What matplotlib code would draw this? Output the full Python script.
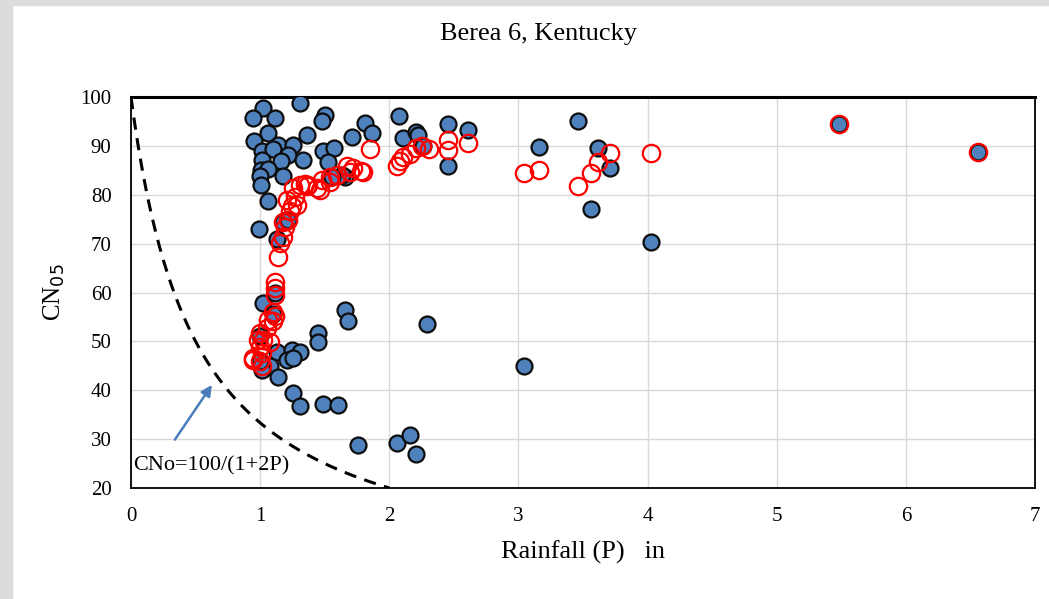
import numpy as np
import matplotlib
matplotlib.use("Agg")
import matplotlib.pyplot as plt
from matplotlib.patches import Rectangle

# Observed CN (blue filled)
blue_x = [1.308, 1.024, 0.947, 1.115, 1.50, 1.476, 1.063, 1.36, 1.81, 1.863, 1.708, 2.077,
          2.107, 2.21, 2.22, 0.954, 1.011, 1.14, 1.256, 1.10, 1.217, 1.158, 1.334, 1.488,
          1.571, 1.011, 1.004, 1.063, 1.179, 1.0, 1.004, 1.527, 1.656, 1.063, 0.993, 1.128,
          2.456, 2.61, 2.26, 2.456, 3.16, 3.46, 3.62, 3.71, 3.56, 4.03, 3.04, 5.48, 6.556,
          1.024, 1.115, 1.656, 1.68, 2.289, 1.45, 1.45, 1.128, 1.244, 1.308, 1.205, 1.256,
          1.076, 1.011, 1.14, 1.256, 1.308, 1.484, 1.605, 1.76, 2.057, 2.16, 2.21,
          1.0, 1.10, 1.0, 1.18, 1.217, 1.63, 1.56]
blue_y = [98.7, 97.7, 95.8, 95.8, 96.3, 95.1, 92.6, 92.2, 94.6, 92.7, 91.9, 96.1,
          91.7, 92.9, 92.2, 90.9, 89.0, 90.2, 90.2, 89.3, 88.1, 87.0, 87.1, 89.0,
          89.5, 87.1, 85.1, 85.2, 83.8, 83.8, 82.0, 86.8, 83.6, 78.7, 72.9, 70.9,
          94.5, 93.3, 89.9, 85.9, 89.7, 95.1, 89.5, 85.4, 77.0, 70.4, 44.9, 94.5, 88.7,
          57.8, 59.9, 56.4, 54.2, 53.5, 51.7, 49.8, 47.9, 48.3, 47.9, 46.2, 46.6,
          44.9, 44.2, 42.7, 39.4, 36.7, 37.2, 36.9, 28.8, 29.3, 30.9, 27.0,
          51.0, 55.5, 46.0, 74.5, 74.8, 84.0, 83.7]

# Fitted / ordered CN (red open)
red_x = [1.14, 1.153, 1.18, 1.217, 1.244, 1.27, 1.256, 1.308, 1.347, 1.37, 1.463, 1.476,
         1.54, 1.592, 1.67, 1.72, 1.80, 1.85, 2.057, 2.08, 2.11, 2.16, 2.21, 2.25, 2.31,
         2.456, 2.456, 2.61, 3.04, 3.16, 3.46, 3.56, 3.62, 3.71, 4.03, 5.48, 6.556,
         1.115, 1.115, 1.115, 1.10, 1.115, 1.10, 1.063, 1.05, 1.0, 1.024, 0.985, 1.076,
         1.0, 1.011, 0.947, 1.0, 1.011, 0.944,
         1.205, 1.282, 1.23, 1.19, 1.18, 1.36, 1.44, 1.54, 1.695, 1.78]
red_y = [67.3, 70.1, 74.5, 74.8, 77.6, 79.6, 81.3, 82.0, 82.3, 82.0, 81.0, 83.0,
         83.7, 84.0, 85.8, 85.4, 84.7, 89.3, 85.8, 86.9, 87.8, 88.3, 89.5, 90.0, 89.4,
         91.2, 89.2, 90.5, 84.5, 85.1, 81.7, 84.4, 86.8, 88.5, 88.5, 94.5, 88.7,
         62.2, 60.9, 59.5, 56.1, 55.1, 54.1, 54.4, 52.7, 51.7, 50.3, 50.3, 49.8,
         48.9, 47.6, 46.6, 45.9, 44.9, 46.2,
         78.9, 77.9, 76.6, 73.5, 71.4, 81.7, 81.3, 82.7, 84.7, 84.9]

title = "Berea 6, Kentucky"
x_ticks = [0, 1, 2, 3, 4, 5, 6, 7]
y_ticks = [20, 30, 40, 50, 60, 70, 80, 90, 100]

plt.rcParams['font.family'] = ['Liberation Serif', 'DejaVu Serif']

fig = plt.figure(figsize=(10.49, 5.99), dpi=100)
# screenshot frame strips
fig.patches.append(Rectangle((0, 0), 12/1049, 1, transform=fig.transFigure,
                             color='#dcdcdc', zorder=0))
fig.patches.append(Rectangle((0, 1 - 5/599), 1, 5/599, transform=fig.transFigure,
                             color='#dcdcdc', zorder=0))

ax = fig.add_axes([131/1049, 1 - 488/599, (1035 - 131)/1049, (488 - 97)/599])
ax.set_xlim(0, 7)
ax.set_ylim(20, 100)
ax.set_xticks(x_ticks)
ax.set_yticks(y_ticks)
ax.grid(True, color='#d9d9d9', linewidth=1.0)
ax.set_axisbelow(True)
ax.tick_params(length=0, labelsize=15)
ax.tick_params(axis='x', pad=14)
ax.tick_params(axis='y', pad=14)
for s in ax.spines.values():
    s.set_color('black')
    s.set_linewidth(1.3)
ax.spines['top'].set_linewidth(2.2)

# curve CNo = 100/(1+2P)
P = np.linspace(0, 2, 200)
ax.plot(P, 100 / (1 + 2 * P), color='black', linewidth=2.2, linestyle=(0, (4, 2.8)), zorder=2)

ax.plot(blue_x, blue_y, 'o', markersize=11.5, markerfacecolor='#4f81bd',
        markeredgecolor='#0d0d0d', markeredgewidth=1.6, linestyle='none', zorder=3)
ax.plot(red_x, red_y, 'o', markersize=12.5, markerfacecolor='none',
        markeredgecolor='#ff0000', markeredgewidth=1.6, linestyle='none', zorder=4)

ax.annotate('', xy=(0.627, 41.1), xytext=(0.34, 29.9),
            arrowprops=dict(arrowstyle='-|>', color='#4a7ebb', lw=1.8,
                            mutation_scale=16, shrinkA=0, shrinkB=0), zorder=5)
ax.text(0.015, 24.6, 'CNo=100/(1+2P)', fontsize=16, va='center', ha='left', zorder=5)

fig.text(538/1049, 1 - 34/599, title, fontsize=19, ha='center', va='center')
ax.set_xlabel('Rainfall (P)   in', fontsize=19, labelpad=10)
ax.set_ylabel('CN$_{05}$', fontsize=18, labelpad=10)

fig.savefig('out.png', dpi=100)
